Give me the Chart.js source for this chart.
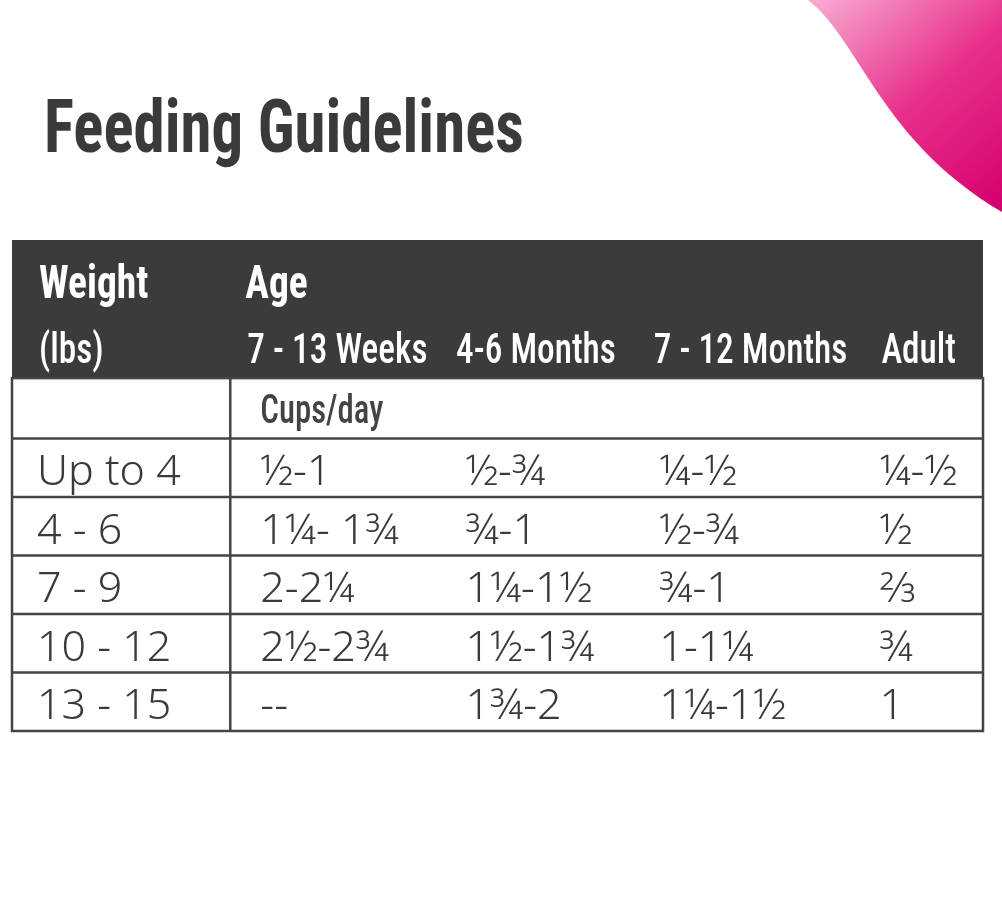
<!DOCTYPE html>
<html><head><meta charset="utf-8">
<script src="https://cdn.jsdelivr.net/npm/chart.js@4"></script>
<style>html,body{margin:0;padding:0;background:#fff}#w{width:1002px;height:898px}</style>
</head><body><div id="w"><canvas id="c"></canvas></div>
<script>
const title = "Feeding Guidelines";
const headerTop = ["Weight", "Age"];
const headerBottom = ["(lbs)", "7 - 13 Weeks", "4-6 Months", "7 - 12 Months", "Adult"];
const subHeader = "Cups/day";
const weights = ["Up to 4", "4 - 6", "7 - 9", "10 - 12", "13 - 15"];
const weeks7to13 = ["½-1", "1¼- 1¾", "2-2¼", "2½-2¾", "--"];
const months4to6 = ["½-¾", "¾-1", "1¼-1½", "1½-1¾", "1¾-2"];
const months7to12 = ["¼-½", "½-¾", "¾-1", "1-1¼", "1¼-1½"];
const adult = ["¼-½", "½", "⅔", "¾", "1"];
const columns = [weights, weeks7to13, months4to6, months7to12, adult];

const COND = "'Roboto Condensed','Liberation Sans Narrow',sans-serif";
function narrow(ctx, t, x, y, s) { ctx.save(); ctx.translate(x, y); ctx.scale(s, 1); ctx.fillText(t, 0, 0); ctx.restore(); }
const tablePlugin = {
  id: 'table',
  beforeDraw(chart) {
    const ctx = chart.ctx;
    ctx.save();
    const g = ctx.createLinearGradient(820, 0, 1002, 210);
    g.addColorStop(0, '#f7a8d0'); g.addColorStop(0.5, '#e8308a'); g.addColorStop(1, '#d4006e');
    ctx.fillStyle = g;
    ctx.beginPath();
    ctx.moveTo(808, 0);
    ctx.bezierCurveTo(860, 40, 880, 140, 1002, 212);
    ctx.lineTo(1002, 0); ctx.closePath(); ctx.fill();
    ctx.fillStyle = '#3a3a3a';
    ctx.font = "bold 74px " + COND;
    ctx.textBaseline = 'alphabetic';
    narrow(ctx, title, 44, 152, 0.85);
    ctx.restore();
  },
  afterDraw(chart) {
    const ctx = chart.ctx, x = chart.scales.x, y = chart.scales.y;
    const L = x.getPixelForValue(-1.16), R = x.getPixelForValue(4);
    const yH = y.getPixelForValue(0), yS = y.getPixelForValue(2.36), yR = v => y.getPixelForValue(3.39 + v);
    ctx.save();
    ctx.fillStyle = '#3b3b3b';
    ctx.fillRect(L, yH, R - L, yS - yH);
    ctx.strokeStyle = '#444'; ctx.lineWidth = 2.5;
    ctx.strokeRect(L, yS, R - L, yR(5) - yS);
    for (let i = 0; i < 5; i++) { ctx.beginPath(); ctx.moveTo(L, yR(i)); ctx.lineTo(R, yR(i)); ctx.stroke(); }
    ctx.beginPath(); ctx.moveTo(x.getPixelForValue(0), yS); ctx.lineTo(x.getPixelForValue(0), yR(5)); ctx.stroke();
    ctx.fillStyle = '#fff'; ctx.textBaseline = 'alphabetic';
    ctx.font = "bold 46px " + COND;
    narrow(ctx, headerTop[0], L + 27, yH + 58, 0.86);
    narrow(ctx, headerTop[1], x.getPixelForValue(0) + 15, yH + 58, 0.86);
    ctx.font = "500 42px " + COND;
    const colX = [L + 27, x.getPixelForValue(0) + 17, x.getPixelForValue(1.2), x.getPixelForValue(2.25), x.getPixelForValue(3.46)];
    headerBottom.forEach((t, i) => narrow(ctx, t, colX[i], yH + 123, 0.84));
    ctx.fillStyle = '#444';
    ctx.font = "500 40px " + COND;
    narrow(ctx, subHeader, x.getPixelForValue(0) + 30, yS + 45, 0.82);
    const dataX = [L + 25, x.getPixelForValue(0) + 30, x.getPixelForValue(1.25), x.getPixelForValue(2.28), x.getPixelForValue(3.45)];
    ctx.font = "300 43px 'Noto Sans','Open Sans',sans-serif";
    ctx.fillStyle = '#3a3a3a';
    columns.forEach((col, c) => col.forEach((t, r) => {
      narrow(ctx, t, dataX[c], yR(r) + 47, 1.0);
    }));
    ctx.restore();
  }
};

new Chart(document.getElementById('c'), {
  type: 'scatter',
  data: { datasets: [{ data: [] }] },
  options: {
    responsive: true, maintainAspectRatio: false, animation: false,
    layout: { padding: { left: 12, right: 19, top: 240, bottom: 167 } },
    plugins: { legend: { display: false }, tooltip: { enabled: false } },
    scales: {
      x: { type: 'linear', min: -1.16, max: 4, display: false },
      y: { type: 'linear', min: 0, max: 8.39, reverse: true, display: false }
    }
  },
  plugins: [tablePlugin]
});
</script></body></html>
